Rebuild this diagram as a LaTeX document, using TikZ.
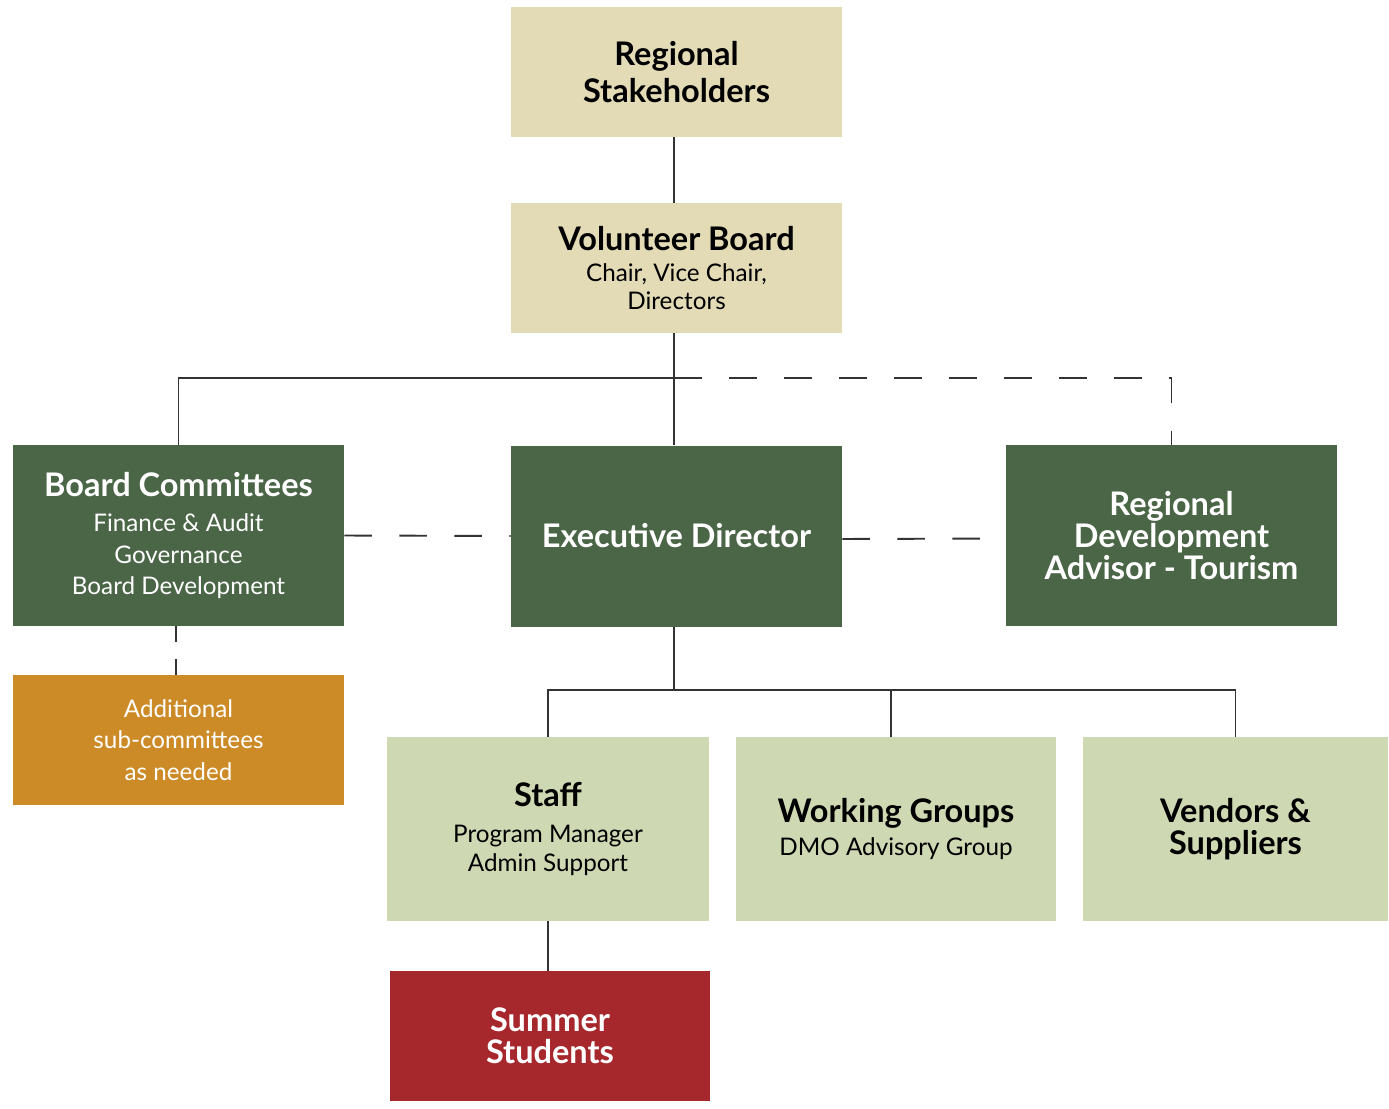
\documentclass[tikz,border=0pt]{standalone}
\usepackage{fontspec}
\setmainfont{Lato}
\usetikzlibrary{positioning}

\definecolor{sand}{HTML}{E3DAB6}
\definecolor{forest}{HTML}{4A6647}
\definecolor{ochre}{HTML}{CD8B28}
\definecolor{sage}{HTML}{CED8B2}
\definecolor{brick}{HTML}{A6282D}
\definecolor{wire}{HTML}{333333}

\newcommand{\headtxt}{\fontsize{18.5}{20}\selectfont\bfseries}

\begin{document}
\begin{tikzpicture}[
  unit/.style={inner xsep=0pt, inner ysep=2pt, align=flush center, text width=#1, minimum width=#1},
  heads/.style={font=\fontsize{18.5}{#1}\selectfont\bfseries},
  subs/.style={font=\fontsize{13.8}{#1}\selectfont},
  tanbox/.style={unit=6.62cm, fill=sand, text=black, minimum height=2.6cm},
  greenbox/.style={unit=6.62cm, fill=forest, text=white, minimum height=3.62cm},
  sagebox/.style={unit=#1, fill=sage, text=black, minimum height=3.68cm},
  link/.style={draw=wire, line width=1.1pt},
  loose/.style={link, dash pattern=on 0.55cm off 0.55cm}
]
\useasboundingbox (0,0) rectangle (27.78,-22.18);

% top of the tree
\node[tanbox, heads=21] (stake) at (13.53,-1.44) {Regional\\Stakeholders};
\node[tanbox, subs=16] (vboard) at (13.53,-5.36) {{\headtxt Volunteer Board}\\[2pt] Chair, Vice Chair,\\ Directors};

% middle row
\node[greenbox, subs=18] (bc) at (3.57,-10.71) {{\headtxt Board Committees}\\[2pt]
  Finance \& Audit\\ Governance\\ Board Development};
\node[greenbox, heads=18.2] (ed) at (13.53,-10.72) {Executive Director};
\node[greenbox, heads=18.2] (rda) at (23.43,-10.71) {Regional\\ Development\\ Advisor - Tourism};
\node[unit=6.62cm, fill=ochre, text=white, minimum height=2.6cm, subs=18] (add) at (3.57,-14.8)
  {Additional\\ sub-committees\\ as needed};

% bottom row
\node[sagebox=6.44cm, subs=16.5] (staff) at (10.96,-16.58)
  {{\headtxt Staff}\\[3.5pt] Program Manager\\ Admin Support};
\node[sagebox=6.4cm, subs=16.5] (wg) at (17.92,-16.58)
  {{\headtxt Working Groups}\\[2pt] DMO Advisory Group};
\node[sagebox=6.1cm, heads=18.2] (vs) at (24.71,-16.58) {Vendors \&\\ Suppliers};
\node[unit=6.4cm, fill=brick, text=white, minimum height=2.6cm, heads=18.2] (ss) at (11.0,-20.72)
  {Summer\\ Students};

% connectors
\coordinate (topbus) at (13.48,-7.56);
\coordinate (lowbus) at (13.48,-13.8);
\draw[link] (stake.south -| topbus) -- (vboard.north -| topbus);
\draw[link] (vboard.south -| topbus) -- (ed.north -| topbus);
\draw[link] (bc.north) |- (topbus);
\draw[loose] (topbus) -| (rda.north);
\draw[loose] (bc.east) -- (ed.west);
\draw[loose] ([yshift=-0.06cm]ed.east) -- ([yshift=-0.06cm]rda.west);
\draw[link, dash pattern=on 0.32cm off 0.34cm] ([xshift=-0.05cm]bc.south) -- ([xshift=-0.05cm]add.north);
\draw[link] (ed.south -| lowbus) -- (lowbus);
\draw[link] (staff.north) |- (lowbus);
\draw[link] (lowbus) -| (vs.north);
\draw[link] ([xshift=-0.1cm]wg.north) -- ([xshift=-0.1cm]wg.north |- lowbus);
\draw[link] (staff.south) -- (staff.south |- ss.north);
\end{tikzpicture}
\end{document}
